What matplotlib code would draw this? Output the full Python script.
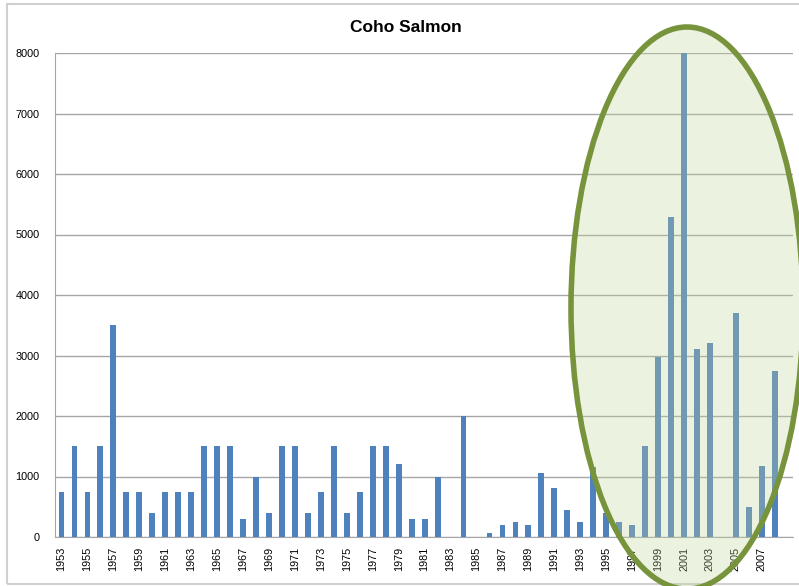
import matplotlib
matplotlib.use("Agg")
import matplotlib.pyplot as plt
from matplotlib.patches import Ellipse, Rectangle

years = list(range(1953, 2009))
values = [750, 1500, 750, 1500, 3500, 750, 750, 400, 750, 750,
          750, 1500, 1500, 1500, 300, 1000, 400, 1500, 1500, 400,
          750, 1500, 400, 750, 1500, 1500, 1200, 300, 300, 1000,
          0, 2000, 0, 60, 200, 250, 200, 1050, 810, 440,
          240, 1160, 400, 250, 200, 1500, 2980, 5290, 8000, 3100,
          3200, 0, 3700, 500, 1170, 2740]
tick_labels = [str(y) for y in years[::2]]
title = "Coho Salmon"

W, H = 799, 586
fig = plt.figure(figsize=(W / 100, H / 100), dpi=100)
plt.rcParams['font.family'] = ['Liberation Sans', 'DejaVu Sans']

# outer chart frame
fig.patches.append(Rectangle((7 / W, 1 - 584 / H), (W - 5) / W, (584 - 4) / H,
                             transform=fig.transFigure, fill=False,
                             edgecolor='#D0D0D0', lw=1.5, zorder=0))

ax = fig.add_axes([55 / W, 1 - 537 / H, (793 - 55) / W, (537 - 53) / H])
x = list(range(len(years)))
ax.bar(x, values, width=0.45, color='#4F81BD', zorder=3)
ax.set_ylim(0, 8000)
ax.set_xlim(-0.5, 56.4)
ax.set_yticks(range(0, 8001, 1000))
ax.set_yticklabels([str(v) for v in range(0, 8001, 1000)], fontsize=7.8)
ax.set_xticks(x[::2])
ax.set_xticklabels(tick_labels, rotation=90, fontsize=7.8)
ax.tick_params(axis='y', length=0, pad=11)
ax.tick_params(axis='x', length=0, pad=7)
ax.yaxis.grid(True, color='#A6A6A6', lw=1, zorder=0)
for s in ['top', 'right']:
    ax.spines[s].set_visible(False)
ax.spines['left'].set_color('#A6A6A6')
ax.spines['bottom'].set_color('#A6A6A6')

fig.text(406 / W, 1 - 27 / H, title, ha='center', va='center',
         fontsize=12.5, fontweight='bold')

# highlight ellipse
e = Ellipse((687 / W, 1 - 308 / H), 232 / W, 562 / H,
            transform=fig.transFigure, facecolor=(0.765, 0.839, 0.608, 0.3),
            edgecolor='#77933C', lw=4, zorder=10)
fig.patches.append(e)

fig.savefig("out.png", dpi=100)
